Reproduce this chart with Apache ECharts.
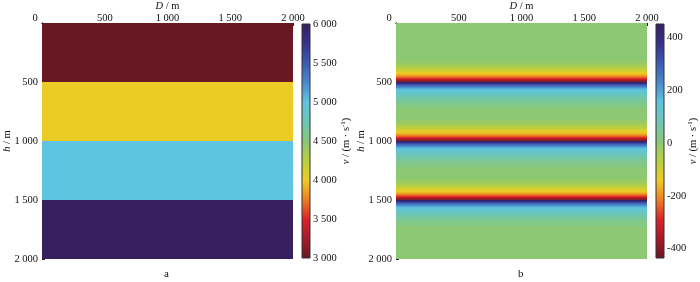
<!DOCTYPE html>
<html>
<head>
<meta charset="utf-8">
<script src="https://cdn.jsdelivr.net/npm/echarts@6/dist/echarts.min.js"></script>
<style>
  html, body { margin: 0; padding: 0; background: #fff; }
  #chart { width: 700px; height: 282px; }
</style>
</head>
<body>
<div id="chart"></div>
<script>
// 数据 —— 值
const distRange = [0, 2000]          // D / m
const depthRange = [0, 2000]         // h / m

// 图 a：分层速度模型
const layerTop = [0, 500, 1000, 1500]
const layerBottom = [500, 1000, 1500, 2000]
const layerVelocity = [3000, 4000, 5000, 6000]

// 图 b：界面附近的速度扰动剖面（相对界面的深度偏移 m，扰动值 m/s）
const interfaces = [500, 1000, 1500]
const bandOffset = [-220, -180, -150, -130, -115, -100, -85, -70, -58, -48, -38, -30, -22, -14, -7,
  0, 7, 14, 22, 30, 40, 50, 62, 75, 90, 110, 130, 155, 185, 220]
const bandValue = [0, -15, -35, -60, -85, -110, -135, -160, -190, -220, -260, -300, -340, -380, -420,
  440, 400, 350, 300, 260, 220, 185, 155, 130, 105, 80, 60, 40, 20, 0]
const backgroundValue = 0

// 色标
const velRange = [3000, 6000]
const dvRange = [-435, 450]
const dvTicks = [-400, -200, 0, 200, 400]

const cmap = ['#681822', '#a8182a', '#dc2228', '#f07e22', '#eccc24', '#b8d040', '#88c878',
  '#6cc6b8', '#5ec4e0', '#4a88cc', '#3c58b0', '#38308c', '#36205e']

const FONT = 'Liberation Serif'
const FS = 10.5

const fmt = (v) => String(v).replace(/\B(?=(\d{3})+(?!\d))/g, ' ')

const layerRows = layerTop.map((t, i) => [t, layerBottom[i], layerVelocity[i]])

const bandRows = [[depthRange[0], depthRange[1], backgroundValue]]
interfaces.forEach((h) => {
  for (let i = 0; i < bandOffset.length - 1; i++) {
    bandRows.push([h + bandOffset[i], h + bandOffset[i + 1], bandValue[i]])
  }
})

const chart = echarts.init(document.getElementById('chart'), null, { renderer: 'canvas' })

const rowRender = (params, api) => {
  const p0 = api.coord([distRange[0], api.value(0)])
  const p1 = api.coord([distRange[1], api.value(1)])
  return {
    type: 'rect',
    shape: { x: p0[0], y: p0[1], width: p1[0] - p0[0], height: p1[1] - p0[1] + 0.6 },
    style: { fill: api.visual('color') },
  }
}

const barRender = (params, api) => {
  const p0 = api.coord([0, api.value(1)])
  const p1 = api.coord([1, api.value(0)])
  const stops = cmap.map((c, i) => ({ offset: i / (cmap.length - 1), color: c }))
  return {
    type: 'rect',
    shape: { x: p0[0], y: p0[1], width: p1[0] - p0[0], height: p1[1] - p0[1] },
    style: {
      fill: new echarts.graphic.LinearGradient(0, 1, 0, 0, stops),
      stroke: '#333',
      lineWidth: 1,
    },
  }
}

const txt = { fontFamily: FONT, fontSize: FS, color: '#111' }
const lineStyle = { color: '#222', width: 1 }

const mainAxes = (grid) => {
  const x = [
    {
      gridIndex: grid, type: 'value', position: 'top', min: distRange[0], max: distRange[1], interval: 500,
      name: '{i|D} / m', nameLocation: 'middle', nameGap: 11, nameMoveOverlap: false,
      nameTextStyle: Object.assign({}, txt, { rich: { i: { fontStyle: 'italic', fontFamily: FONT, fontSize: FS } } }),
      axisLine: { lineStyle }, axisTick: { inside: true, length: 3, lineStyle },
      axisLabel: Object.assign({}, txt, {
        margin: -1,
        formatter: (v) => (v === 0 ? '{z|0}' : fmt(v)),
        rich: { z: { padding: [0, 14, 0, 0], fontFamily: FONT, fontSize: FS, color: '#111' } },
      }),
      splitLine: { show: false },
    },
    {
      gridIndex: grid, type: 'value', position: 'bottom', min: distRange[0], max: distRange[1],
      axisLine: { lineStyle }, axisTick: { show: false }, axisLabel: { show: false }, splitLine: { show: false },
    },
  ]
  const y = [
    {
      gridIndex: grid, type: 'value', position: 'left', inverse: true, min: depthRange[0], max: depthRange[1], interval: 500,
      name: '{i|h} / m', nameLocation: 'middle', nameGap: 29, nameRotate: 90, nameMoveOverlap: false,
      nameTextStyle: Object.assign({}, txt, { rich: { i: { fontStyle: 'italic', fontFamily: FONT, fontSize: FS } } }),
      axisLine: { lineStyle }, axisTick: { inside: true, length: 3, lineStyle },
      axisLabel: Object.assign({}, txt, { margin: 4, showMinLabel: false, formatter: fmt }),
      splitLine: { show: false },
    },
    {
      gridIndex: grid, type: 'value', position: 'right', inverse: true, min: depthRange[0], max: depthRange[1],
      axisLine: { lineStyle }, axisTick: { show: false }, axisLabel: { show: false }, splitLine: { show: false },
    },
  ]
  return { x, y }
}

const barAxes = (grid, range, ticks, interval, gap) => {
  const x = { gridIndex: grid, type: 'value', min: 0, max: 1, show: false }
  const y = {
    gridIndex: grid, type: 'value', position: 'right', min: range[0], max: range[1],
    name: '{i|v} / (m · s{s|-1})', nameLocation: 'middle', nameGap: gap, nameRotate: 90, nameMoveOverlap: false,
    nameTextStyle: Object.assign({}, txt, {
      rich: {
        i: { fontStyle: 'italic', fontFamily: FONT, fontSize: FS },
        s: { fontFamily: FONT, fontSize: 7, padding: [0, 0, 6, 0] },
      },
    }),
    axisLine: { show: false }, axisTick: { show: false }, splitLine: { show: false },
    axisLabel: Object.assign({}, txt, { margin: 3, formatter: fmt }),
  }
  if (interval) y.interval = interval
  if (ticks) {
    y.axisLabel.customValues = ticks
  }
  return { x, y }
}

const aMain = mainAxes(0)
const aBar = barAxes(1, velRange, null, 500, 30)
const bMain = mainAxes(2)
const bBar = barAxes(3, dvRange, dvTicks, null, 23)

const option = {
  animation: false,
  backgroundColor: '#fff',
  grid: [
    { left: 42, top: 23, width: 251, height: 236, outerBoundsMode: 'none', containLabel: false },
    { left: 302, top: 24, width: 8, height: 234, outerBoundsMode: 'none', containLabel: false },
    { left: 396, top: 23, width: 251, height: 236, outerBoundsMode: 'none', containLabel: false },
    { left: 656, top: 24, width: 8, height: 234, outerBoundsMode: 'none', containLabel: false },
  ],
  xAxis: [aMain.x[0], aMain.x[1], aBar.x, bMain.x[0], bMain.x[1], bBar.x],
  yAxis: [aMain.y[0], aMain.y[1], aBar.y, bMain.y[0], bMain.y[1], bBar.y],
  visualMap: [
    { type: 'continuous', show: false, seriesIndex: 0, dimension: 2, min: velRange[0], max: velRange[1], inRange: { color: cmap } },
    { type: 'continuous', show: false, seriesIndex: 2, dimension: 2, min: dvRange[0], max: dvRange[1], inRange: { color: cmap } },
  ],
  series: [
    { type: 'custom', xAxisIndex: 0, yAxisIndex: 0, silent: true, clip: true, encode: { y: [0, 1] }, renderItem: rowRender, data: layerRows, z: 1 },
    { type: 'custom', xAxisIndex: 2, yAxisIndex: 2, silent: true, encode: { y: [0, 1] }, renderItem: barRender, data: [[velRange[0], velRange[1]]] },
    { type: 'custom', xAxisIndex: 3, yAxisIndex: 3, silent: true, clip: true, encode: { y: [0, 1] }, renderItem: rowRender, data: bandRows, z: 1 },
    { type: 'custom', xAxisIndex: 5, yAxisIndex: 5, silent: true, encode: { y: [0, 1] }, renderItem: barRender, data: [[dvRange[0], dvRange[1]]] },
  ],
  graphic: [
    { type: 'text', left: 164, top: 269, style: { text: 'a', font: '11px "Liberation Serif"', fill: '#111' } },
    { type: 'text', left: 518, top: 269, style: { text: 'b', font: '11px "Liberation Serif"', fill: '#111' } },
  ],
}

chart.setOption(option)
</script>
</body>
</html>
